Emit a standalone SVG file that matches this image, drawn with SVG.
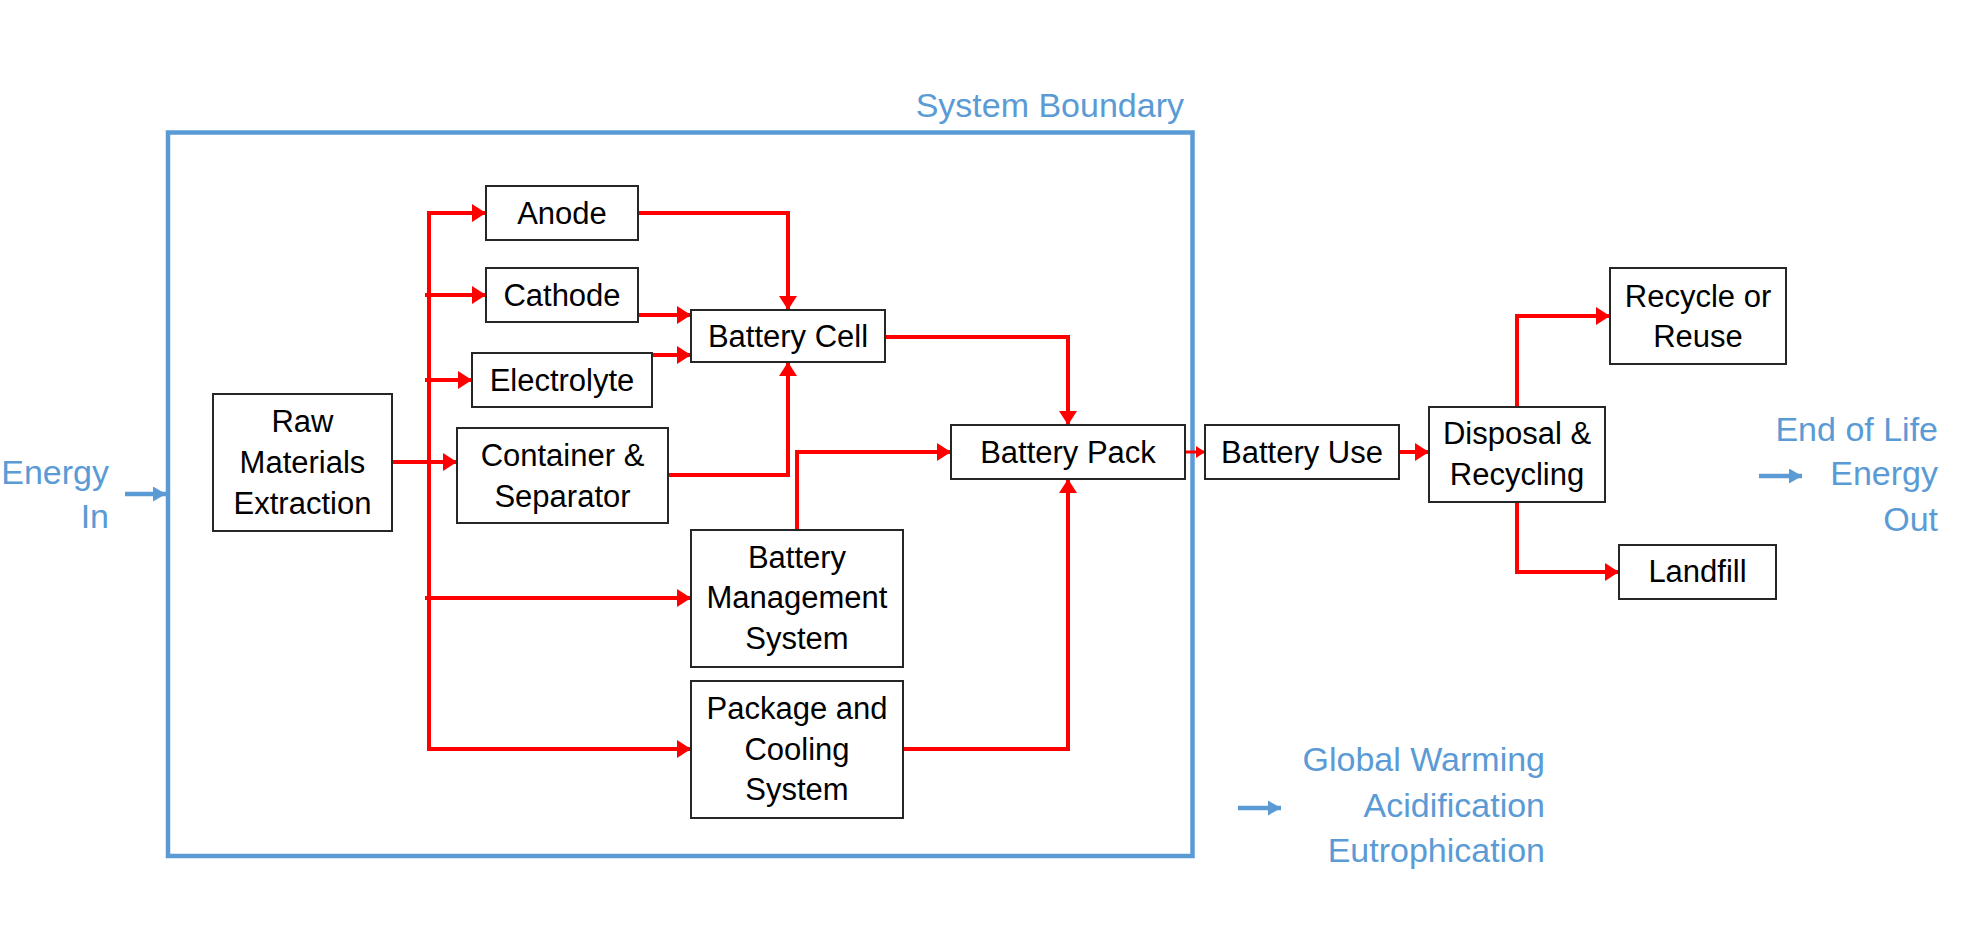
<svg xmlns="http://www.w3.org/2000/svg" width="1971" height="943" viewBox="0 0 1971 943">
<defs>
<style>
.box{fill:#fff;stroke:#262626;stroke-width:2}
.t{font-family:"Liberation Sans",Arial,sans-serif;font-size:31px;fill:#000;text-anchor:middle}
.b{font-family:"Liberation Sans",Arial,sans-serif;font-size:34px;fill:#5B9BD5;text-anchor:end}
.r{fill:none;stroke:#FF0000;stroke-width:4;marker-end:url(#ar)}
.rs{fill:none;stroke:#FF0000;stroke-width:3;marker-end:url(#ars)}
.bl{fill:none;stroke:#5B9BD5;stroke-width:4.5;marker-end:url(#ab)}
</style>
<marker id="ar" markerUnits="userSpaceOnUse" markerWidth="14" markerHeight="18" refX="14" refY="9" orient="auto"><path d="M0,0 L14,9 L0,18 Z" fill="#FF0000"/></marker>
<marker id="ars" markerUnits="userSpaceOnUse" markerWidth="9" markerHeight="12" refX="9" refY="6" orient="auto"><path d="M0,0 L9,6 L0,12 Z" fill="#FF0000"/></marker>
<marker id="ab" markerUnits="userSpaceOnUse" markerWidth="13" markerHeight="15" refX="13" refY="7.5" orient="auto"><path d="M0,0 L13,7.5 L0,15 Z" fill="#5B9BD5"/></marker>
</defs>
<rect width="1971" height="943" fill="#fff"/>
<g id="boundary">
<rect x="168" y="132.5" width="1024.5" height="723.5" fill="none" stroke="#5B9BD5" stroke-width="4.5"/>
<text class="b" x="1184" y="117">System Boundary</text>
</g>
<g id="connectors">
<path class="r" d="M429,751 V213 H486"/>
<path class="r" d="M429,749 H691"/>
<path class="r" d="M425,295 H486"/>
<path class="r" d="M425,380 H472"/>
<path class="r" d="M425,598 H691"/>
<path class="r" d="M392,462 H457"/>
<path class="r" d="M638,315 H691"/>
<path class="r" d="M652,355 H691"/>
<path class="r" d="M638,213 H788 V310"/>
<path class="r" d="M668,475 H788 V362"/>
<path class="r" d="M885,337 H1068 V425"/>
<path class="r" d="M797,530 V452 H951"/>
<path class="r" d="M903,749 H1068 V479"/>
<path class="rs" d="M1185,452 H1205"/>
<path class="r" d="M1399,452 H1429"/>
<path class="r" d="M1517,407 V316 H1610"/>
<path class="r" d="M1517,502 V572 H1619"/>
<path class="bl" d="M125,494 H166"/>
<path class="bl" d="M1759,476 H1802"/>
<path class="bl" d="M1238,808 H1281"/>
</g>
<g id="raw"><rect class="box" x="213" y="394" width="179" height="137"/><text class="t" x="302.5" y="432">Raw</text><text class="t" x="302.5" y="473">Materials</text><text class="t" x="302.5" y="514">Extraction</text></g>
<g id="anode"><rect class="box" x="486" y="186" width="152" height="54"/><text class="t" x="562" y="224">Anode</text></g>
<g id="cathode"><rect class="box" x="486" y="268" width="152" height="54"/><text class="t" x="562" y="306">Cathode</text></g>
<g id="electrolyte"><rect class="box" x="472" y="353" width="180" height="54"/><text class="t" x="562" y="391">Electrolyte</text></g>
<g id="container"><rect class="box" x="457" y="428" width="211" height="95"/><text class="t" x="562.5" y="466">Container &amp;</text><text class="t" x="562.5" y="507">Separator</text></g>
<g id="cell"><rect class="box" x="691" y="310" width="194" height="52"/><text class="t" x="788" y="347">Battery Cell</text></g>
<g id="bms"><rect class="box" x="691" y="530" width="212" height="137"/><text class="t" x="797" y="568">Battery</text><text class="t" x="797" y="608">Management</text><text class="t" x="797" y="649">System</text></g>
<g id="package"><rect class="box" x="691" y="681" width="212" height="137"/><text class="t" x="797" y="719">Package and</text><text class="t" x="797" y="760">Cooling</text><text class="t" x="797" y="800">System</text></g>
<g id="pack"><rect class="box" x="951" y="425" width="234" height="54"/><text class="t" x="1068" y="463">Battery Pack</text></g>
<g id="use"><rect class="box" x="1205" y="425" width="194" height="54"/><text class="t" x="1302" y="463">Battery Use</text></g>
<g id="disposal"><rect class="box" x="1429" y="407" width="176" height="95"/><text class="t" x="1517" y="444">Disposal &amp;</text><text class="t" x="1517" y="485">Recycling</text></g>
<g id="recycle"><rect class="box" x="1610" y="268" width="176" height="96"/><text class="t" x="1698" y="307">Recycle or</text><text class="t" x="1698" y="347">Reuse</text></g>
<g id="landfill"><rect class="box" x="1619" y="545" width="157" height="54"/><text class="t" x="1697.5" y="582">Landfill</text></g>
<g id="energy-in"><text class="b" x="109" y="484">Energy</text><text class="b" x="109" y="528">In</text></g>
<g id="energy-out"><text class="b" x="1938" y="441">End of Life</text><text class="b" x="1938" y="485">Energy</text><text class="b" x="1938" y="531">Out</text></g>
<g id="impacts"><text class="b" x="1545" y="771">Global Warming</text><text class="b" x="1545" y="817">Acidification</text><text class="b" x="1545" y="862">Eutrophication</text></g>
</svg>
